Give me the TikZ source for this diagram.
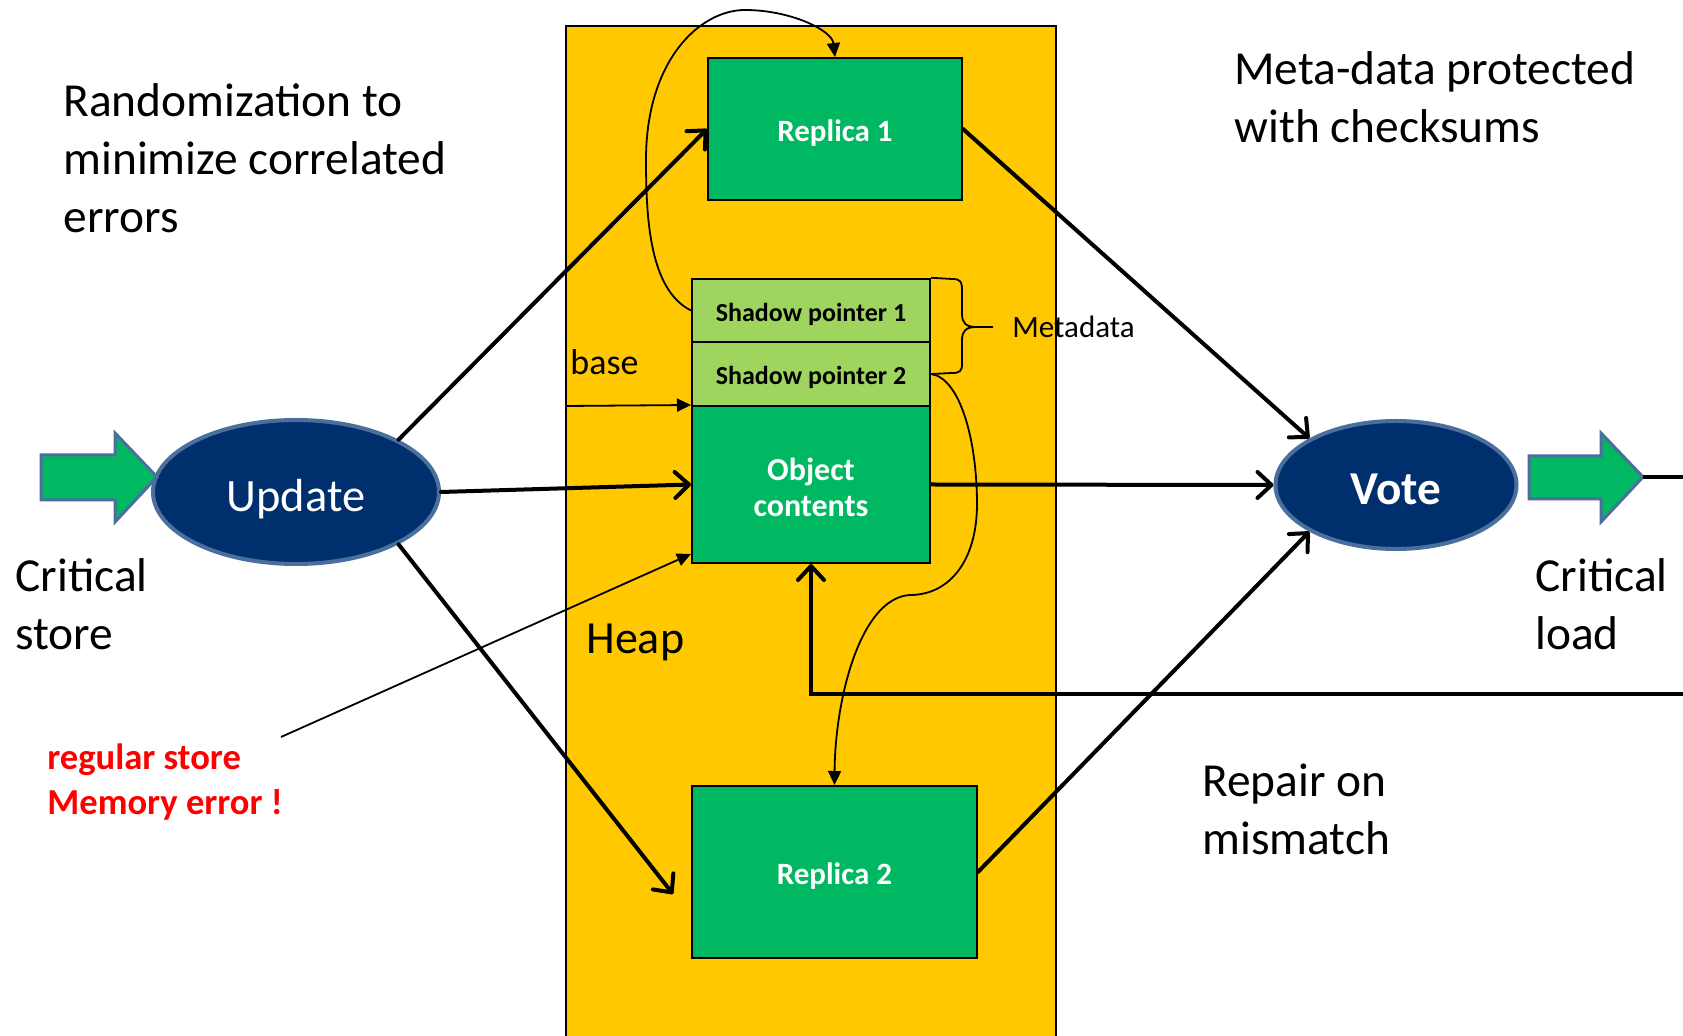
\documentclass[tikz,border=0pt]{standalone}
\usepackage{fontspec}
\setmainfont{Carlito}
\usetikzlibrary{arrows.meta,shapes.geometric}

\definecolor{heapfill}{HTML}{FFC800}
\definecolor{boxgreen}{HTML}{00B862}
\definecolor{ptrgreen}{HTML}{9FD45F}
\definecolor{ovalfill}{HTML}{002F6E}
\definecolor{ovalline}{HTML}{4A6F9C}
\definecolor{errred}{HTML}{FF0000}

\begin{document}
\begin{tikzpicture}[
  x=0.5pt, y=-0.5pt,
  bigtext/.style={inner sep=0pt, align=left, anchor=base west,
    font=\fontsize{23.7}{29}\selectfont},
  oval/.style={ellipse, draw=ovalline, line width=2pt, fill=ovalfill,
    text=white, inner sep=0pt, text height=21pt, text depth=1.9pt},
  membox/.style={rectangle, draw=black, line width=1pt, fill=boxgreen,
    text=white, inner sep=0pt, align=center,
    text height=13.95pt, text depth=1.24pt,
    font=\fontsize{15.5}{18}\selectfont\bfseries},
  ptrbox/.style={rectangle, draw=black, line width=1pt, fill=ptrgreen,
    inner sep=0pt, minimum width=119pt, minimum height=31.75pt,
    text height=11.7pt, text depth=1.04pt,
    font=\fontsize{13}{15}\selectfont\bfseries},
  flow/.style={line width=2pt, line cap=round,
    -{Straight Barb[length=7pt,width=13pt,round]}},
  thin/.style={line width=0.9pt, -{Triangle[length=7pt,width=6.5pt]}},
  fatarrow/.style={draw=ovalline, line width=1.5pt, fill=boxgreen, line join=miter},
]
\useasboundingbox (0,0) rectangle (1683,1036);
\clip (0,0) rectangle (1683,1036);
\fill[white] (0,0) rectangle (1683,1036);

% heap region
\draw[fill=heapfill, line width=0.6pt] (566,26) rectangle (1056,1060);

% heap contents
\node[membox, minimum width=127pt, minimum height=71pt] (rep1) at (835,129) {Replica 1};
\node[ptrbox] (sp1) at (811,310.5) {Shadow pointer 1};
\node[ptrbox] (sp2) at (811,374) {Shadow pointer 2};
\node[membox, minimum width=119pt, minimum height=78.5pt,
      text height=32.4pt, text depth=0pt,
      font=\fontsize{16}{18}\selectfont\bfseries] (obj) at (811,484.5) {Object\\contents};
\node[membox, minimum width=142.5pt, minimum height=86pt] (rep2) at (834.5,872) {Replica 2};

% update / vote ovals
\node[oval, minimum width=143pt, minimum height=72pt,
      font=\fontsize{23.2}{26}\selectfont] (upd) at (296,492) {Update};
\node[oval, minimum width=120.5pt, minimum height=64pt,
      font=\fontsize{23.6}{26}\selectfont\bfseries] (vote) at (1396,485) {Vote};

% input / output block arrows
\draw[fatarrow] (41,455) -- (115,455) -- (115,433) -- (157,477) -- (115,522) -- (115,500) -- (41,500) -- cycle;
\draw[fatarrow] (1529,456) -- (1601,456) -- (1601,433) -- (1643,477) -- (1601,522) -- (1601,499) -- (1529,499) -- cycle;
\coordinate (outtip) at (1643,477);
\coordinate (outend) at (1690,477);
\draw[line width=2pt] (outtip) -- (outend);

% labels (anchored on the baseline of their last line)
\node[bigtext] (rnd) at (63,233) {Randomization to\\minimize correlated\\errors};
\node[bigtext] (meta) at (1234,143) {Meta-data protected\\with checksums};
\node[bigtext] (cstore) at (15,650) {Critical\\store};
\node[bigtext] (cload) at (1535,650) {Critical\\load};
\node[bigtext, font=\fontsize{23}{28}\selectfont] (heaplbl) at (586,654) {Heap};
\node[bigtext] (repair) at (1202,855) {Repair on\\mismatch};
\node[bigtext, font=\fontsize{18}{22}\selectfont] (baselbl) at (570,375) {base};
\node[bigtext, font=\fontsize{15.5}{18}\selectfont] (mdlbl) at (1012,338) {Metadata};
\node[bigtext, text=errred, font=\fontsize{18.3}{22.5}\selectfont\bfseries] (err) at (47,815)
  {regular store\\Memory error !};

% data flow
\draw[flow] (upd.north east) -- (rep1.west);
\draw[flow] (upd.east) -- (obj.west);
\draw[flow] (upd.south east) -- ([xshift=-9pt,yshift=-11pt]rep2.west);
\draw[flow] (rep1.east) -- (vote.north west);
\draw[flow] (obj.east) -- (vote.west);
\draw[flow] (rep2.east) -- (vote.south west);

% repair path back into the object
\coordinate (repin) at (1690,694);
\coordinate (repcorner) at (811,694);
\draw[flow] (repin) -- (repcorner) -- (obj.south);

% base pointer and the stray store
\coordinate (baseorig) at (566,406);
\draw[thin] (baseorig) -- (obj.north west);
\coordinate (errorig) at (281,737);
\draw[thin] (errorig) -- ([yshift=5pt]obj.south west);

% shadow pointers to their replicas
\draw[thin] (sp1.west) .. controls (650,290) and (646,220) .. (646,160)
  .. controls (646,60) and (700,10) .. (745,10)
  .. controls (790,10) and (832,30) .. (rep1.north);
\draw[thin] (sp2.east) .. controls (960,378) and (977,440) .. (977,504)
  .. controls (977,560) and (950,595) .. (910,595)
  .. controls (860,598) and (835,700) .. (rep2.north);

% metadata brace
\draw[line width=0.9pt] (sp1.north east) -- (952,279)
  .. controls (961,279) and (962,282) .. (962,290) -- (962,314)
  .. controls (962,323) and (966,327) .. (976,327) -- (993,327);
\draw[line width=0.9pt] (976,327)
  .. controls (966,327) and (962,331) .. (962,340) -- (962,364)
  .. controls (962,371) and (960,373) .. (952,373) -- (932,374);
\end{tikzpicture}
\end{document}
